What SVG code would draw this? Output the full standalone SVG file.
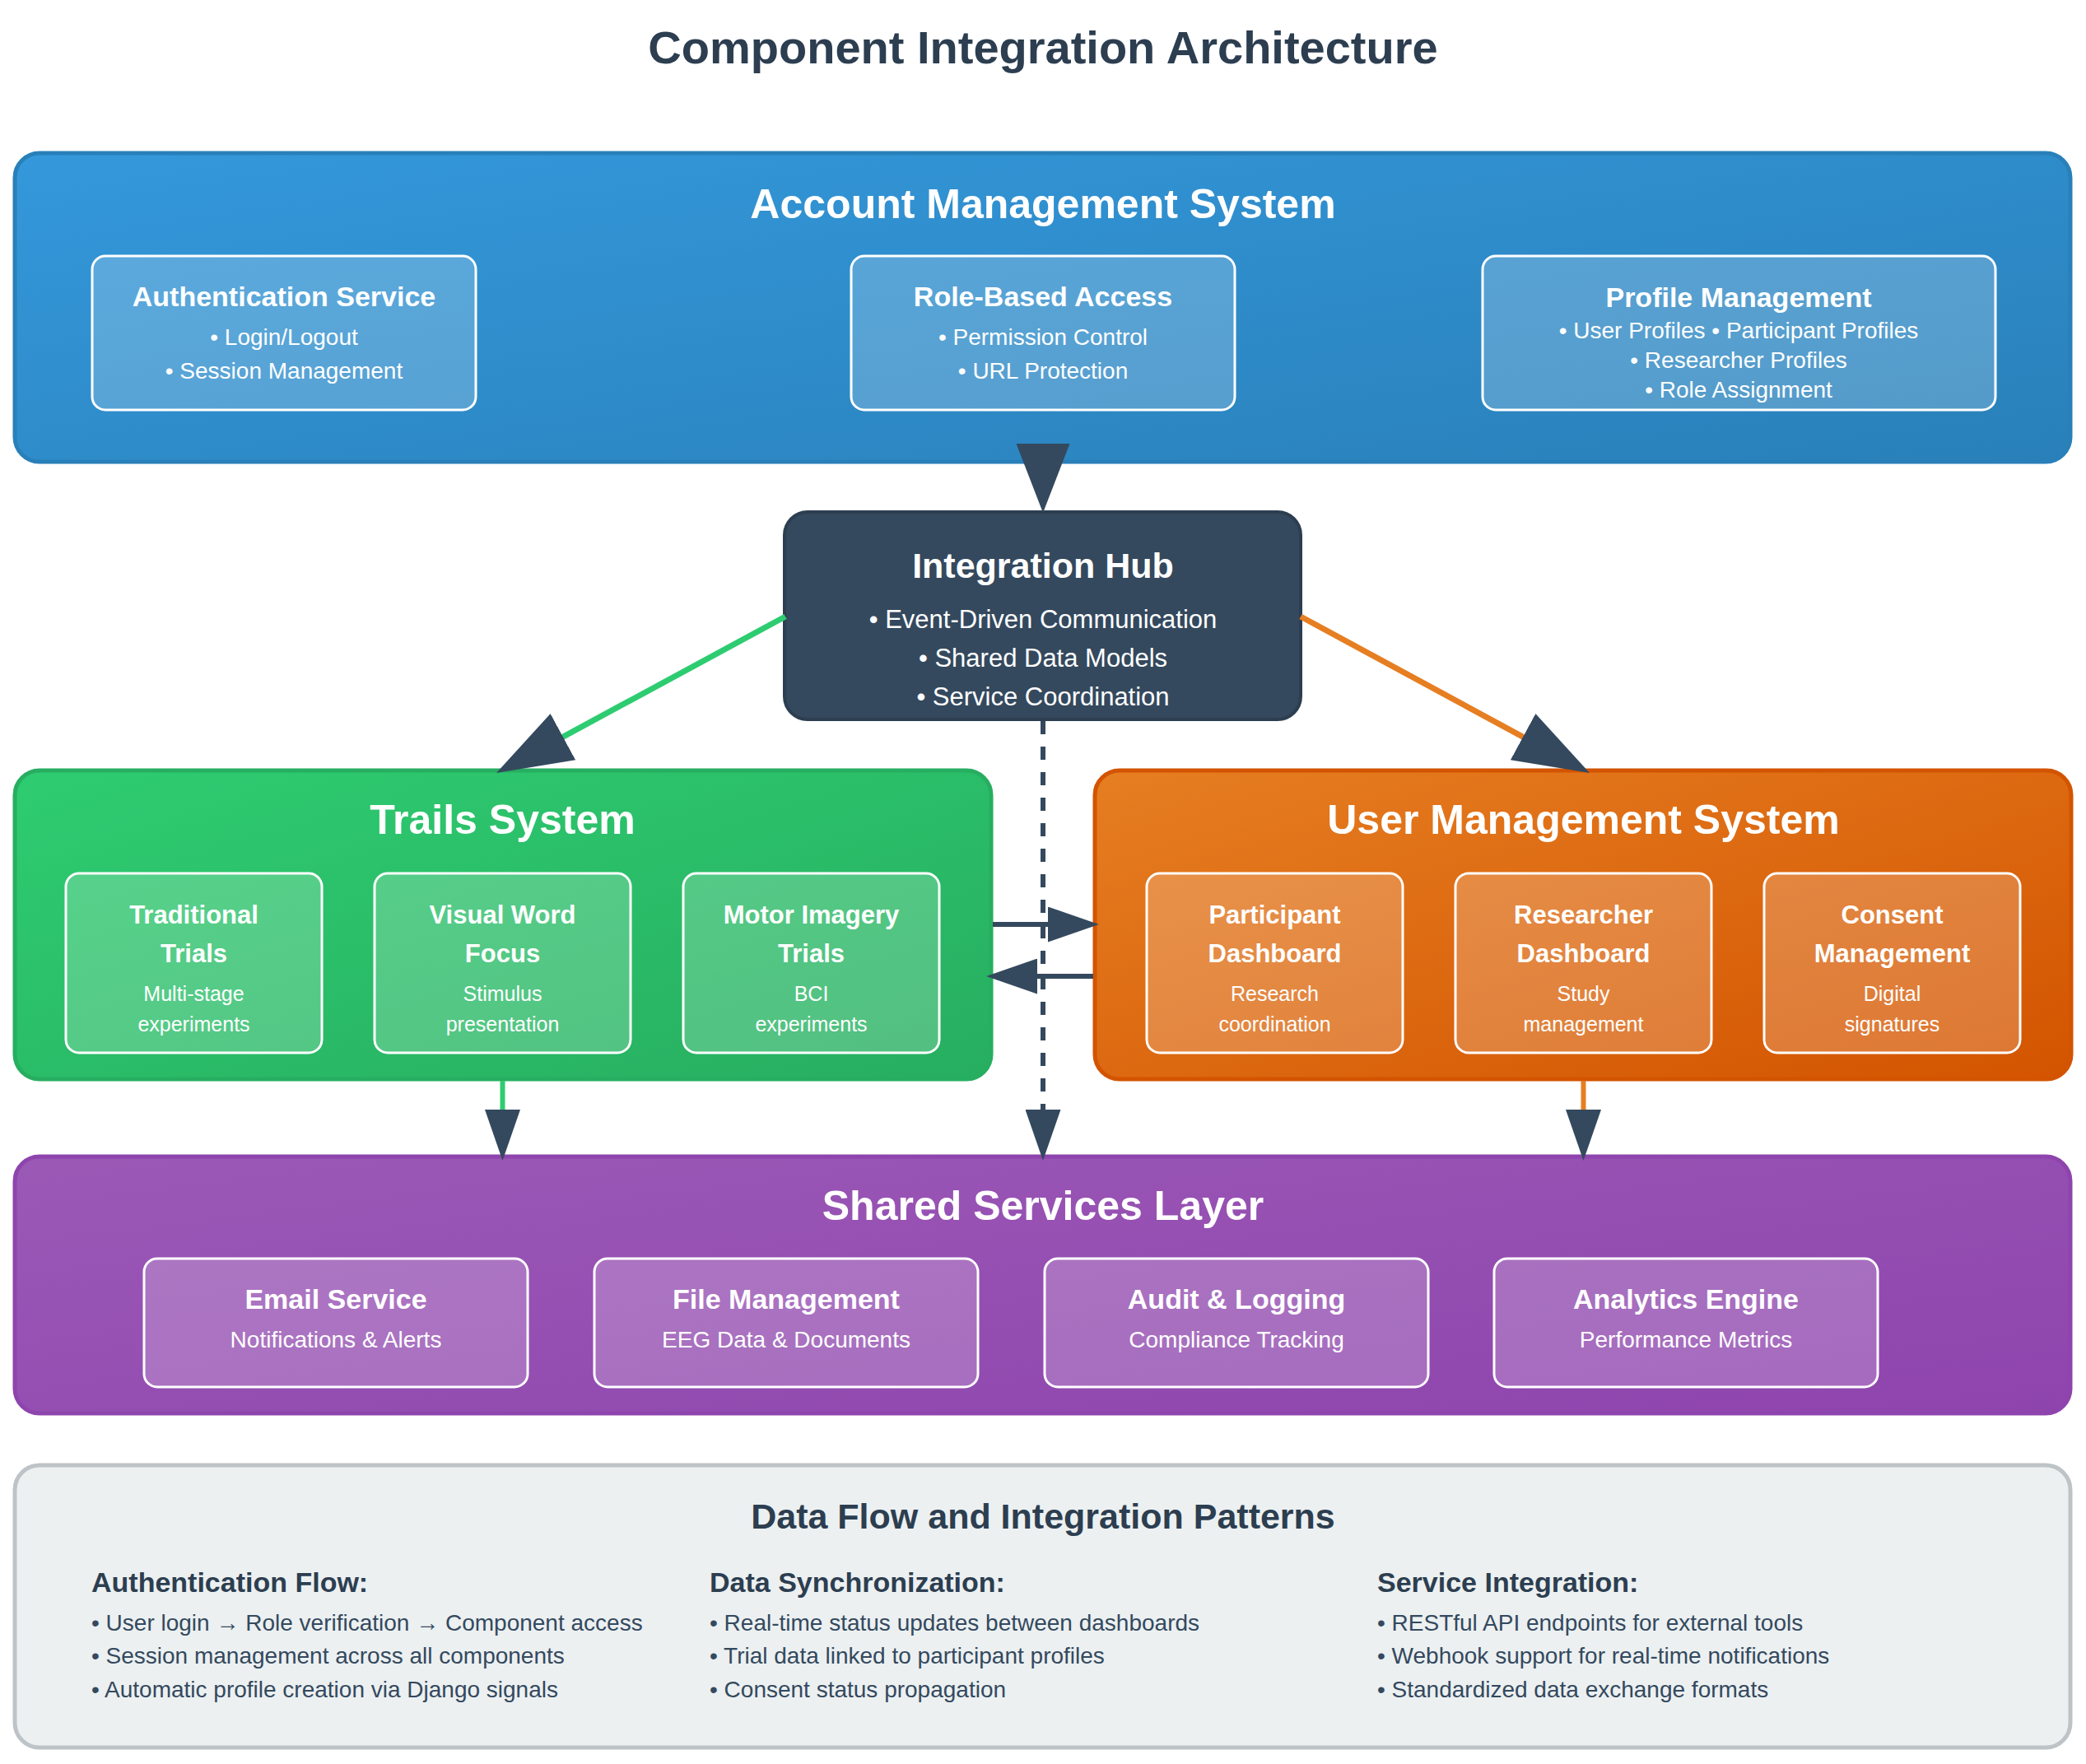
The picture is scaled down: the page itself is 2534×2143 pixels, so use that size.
<svg xmlns="http://www.w3.org/2000/svg" width="2534" height="2143" viewBox="0 0 2534 2143">
<style>
text{font-family:"Liberation Sans",Arial,sans-serif;}
.ttl{font-size:56px;font-weight:bold;fill:#2c3e50;text-anchor:middle;}
.sec{font-size:50px;font-weight:bold;fill:#fff;text-anchor:middle;}
.hubt{font-size:43px;font-weight:bold;fill:#fff;text-anchor:middle;}
.hubi{font-size:31px;fill:#fff;text-anchor:middle;}
.st34{font-size:34px;font-weight:bold;fill:#fff;text-anchor:middle;}
.si28{font-size:28px;fill:#fff;text-anchor:middle;}
.st31{font-size:31px;font-weight:bold;fill:#fff;text-anchor:middle;}
.si25{font-size:25px;fill:#fff;text-anchor:middle;}
.sub{fill:#fff;fill-opacity:0.2;stroke:#fff;stroke-width:3;}
.big{stroke-width:5;}
.bt{font-size:43px;font-weight:bold;fill:#2c3e50;text-anchor:middle;}
.bh{font-size:34px;font-weight:bold;fill:#2c3e50;}
.bi{font-size:28px;fill:#34495e;}
.ln{fill:none;}
</style>
<defs>
<linearGradient id="gBlue" x1="0" y1="0" x2="1" y2="1"><stop offset="0" stop-color="#3498db"/><stop offset="1" stop-color="#2980b9"/></linearGradient>
<linearGradient id="gGreen" x1="0" y1="0" x2="1" y2="1"><stop offset="0" stop-color="#2ecc71"/><stop offset="1" stop-color="#27ae60"/></linearGradient>
<linearGradient id="gOrange" x1="0" y1="0" x2="1" y2="1"><stop offset="0" stop-color="#e67e22"/><stop offset="1" stop-color="#d35400"/></linearGradient>
<linearGradient id="gPurple" x1="0" y1="0" x2="1" y2="1"><stop offset="0" stop-color="#9b59b6"/><stop offset="1" stop-color="#8e44ad"/></linearGradient>
<marker id="arrowSm" markerUnits="userSpaceOnUse" viewBox="0 0 62 43" markerWidth="62" markerHeight="43" refX="48" refY="21.5" orient="auto"><path d="M0,0 L62,21.5 L0,43 Z" fill="#34495e"/></marker>
<marker id="arrowBig" markerUnits="userSpaceOnUse" viewBox="0 0 92 64" markerWidth="92" markerHeight="64" refX="78" refY="32" orient="auto"><path d="M0,0 L92,32 L0,64 Z" fill="#34495e"/></marker>
<marker id="arrowDown" markerUnits="userSpaceOnUse" viewBox="0 0 84 65" markerWidth="84" markerHeight="65" refX="70" refY="32.5" orient="auto"><path d="M0,0 L84,32.5 L0,65 Z" fill="#34495e"/></marker>
</defs>
<rect width="2534" height="2143" fill="#fff"/>
<text class="ttl" x="1267" y="77">Component Integration Architecture</text>

<g id="account-management">
<rect class="big" x="18" y="186" width="2497" height="375" rx="30" fill="url(#gBlue)" stroke="#2980b9"/>
<text class="sec" x="1267" y="265">Account Management System</text>
</g>
<g id="authentication-service">
<rect class="sub" x="112" y="311" width="466" height="187" rx="16"/>
<text class="st34" x="345" y="372">Authentication Service</text>
<text class="si28" x="345" y="419">• Login/Logout</text>
<text class="si28" x="345" y="460">• Session Management</text>
</g>
<g id="role-based-access">
<rect class="sub" x="1034" y="311" width="466" height="187" rx="16"/>
<text class="st34" x="1267" y="372">Role-Based Access</text>
<text class="si28" x="1267" y="419">• Permission Control</text>
<text class="si28" x="1267" y="460">• URL Protection</text>
</g>
<g id="profile-management">
<rect class="sub" x="1801" y="311" width="623" height="187" rx="16"/>
<text class="st34" x="2112" y="373">Profile Management</text>
<text class="si28" x="2112" y="411">• User Profiles • Participant Profiles</text>
<text class="si28" x="2112" y="447">• Researcher Profiles</text>
<text class="si28" x="2112" y="483">• Role Assignment</text>
</g>

<g id="integration-hub">
<rect x="953" y="622" width="627" height="252" rx="28" fill="#34495e" stroke="#2c3e50" stroke-width="4"/>
<text class="hubt" x="1267" y="702">Integration Hub</text>
<text class="hubi" x="1267" y="763">• Event-Driven Communication</text>
<text class="hubi" x="1267" y="810">• Shared Data Models</text>
<text class="hubi" x="1267" y="857">• Service Coordination</text>
</g>

<g id="trails-system">
<rect class="big" x="18" y="936" width="1186" height="375" rx="30" fill="url(#gGreen)" stroke="#27ae60"/>
<text class="sec" x="610.5" y="1013">Trails System</text>
</g>
<g id="traditional-trials">
<rect class="sub" x="80" y="1061" width="311" height="218" rx="16"/>
<text class="st31" x="235.5" y="1122">Traditional</text>
<text class="st31" x="235.5" y="1169">Trials</text>
<text class="si25" x="235.5" y="1216">Multi-stage</text>
<text class="si25" x="235.5" y="1253">experiments</text>
</g>
<g id="visual-word-focus">
<rect class="sub" x="455" y="1061" width="311" height="218" rx="16"/>
<text class="st31" x="610.5" y="1122">Visual Word</text>
<text class="st31" x="610.5" y="1169">Focus</text>
<text class="si25" x="610.5" y="1216">Stimulus</text>
<text class="si25" x="610.5" y="1253">presentation</text>
</g>
<g id="motor-imagery-trials">
<rect class="sub" x="830" y="1061" width="311" height="218" rx="16"/>
<text class="st31" x="985.5" y="1122">Motor Imagery</text>
<text class="st31" x="985.5" y="1169">Trials</text>
<text class="si25" x="985.5" y="1216">BCI</text>
<text class="si25" x="985.5" y="1253">experiments</text>
</g>

<g id="user-management-system">
<rect class="big" x="1330" y="936" width="1186" height="375" rx="30" fill="url(#gOrange)" stroke="#d35400"/>
<text class="sec" x="1923.5" y="1013">User Management System</text>
</g>
<g id="participant-dashboard">
<rect class="sub" x="1393" y="1061" width="311" height="218" rx="16"/>
<text class="st31" x="1548.5" y="1122">Participant</text>
<text class="st31" x="1548.5" y="1169">Dashboard</text>
<text class="si25" x="1548.5" y="1216">Research</text>
<text class="si25" x="1548.5" y="1253">coordination</text>
</g>
<g id="researcher-dashboard">
<rect class="sub" x="1768" y="1061" width="311" height="218" rx="16"/>
<text class="st31" x="1923.5" y="1122">Researcher</text>
<text class="st31" x="1923.5" y="1169">Dashboard</text>
<text class="si25" x="1923.5" y="1216">Study</text>
<text class="si25" x="1923.5" y="1253">management</text>
</g>
<g id="consent-management">
<rect class="sub" x="2143" y="1061" width="311" height="218" rx="16"/>
<text class="st31" x="2298.5" y="1122">Consent</text>
<text class="st31" x="2298.5" y="1169">Management</text>
<text class="si25" x="2298.5" y="1216">Digital</text>
<text class="si25" x="2298.5" y="1253">signatures</text>
</g>

<g id="shared-services-layer">
<rect class="big" x="18" y="1405" width="2497" height="312" rx="30" fill="url(#gPurple)" stroke="#8e44ad"/>
<text class="sec" x="1267" y="1482">Shared Services Layer</text>
</g>
<g id="email-service">
<rect class="sub" x="175" y="1529" width="466" height="156" rx="16"/>
<text class="st34" x="408" y="1590">Email Service</text>
<text class="si28" x="408" y="1637">Notifications &amp; Alerts</text>
</g>
<g id="file-management">
<rect class="sub" x="722" y="1529" width="466" height="156" rx="16"/>
<text class="st34" x="955" y="1590">File Management</text>
<text class="si28" x="955" y="1637">EEG Data &amp; Documents</text>
</g>
<g id="audit-logging">
<rect class="sub" x="1269" y="1529" width="466" height="156" rx="16"/>
<text class="st34" x="1502" y="1590">Audit &amp; Logging</text>
<text class="si28" x="1502" y="1637">Compliance Tracking</text>
</g>
<g id="analytics-engine">
<rect class="sub" x="1815" y="1529" width="466" height="156" rx="16"/>
<text class="st34" x="2048" y="1590">Analytics Engine</text>
<text class="si28" x="2048" y="1637">Performance Metrics</text>
</g>

<g id="data-flow-patterns">
<rect x="18" y="1780" width="2497" height="343" rx="30" fill="#ecf0f1" stroke="#bdc3c7" stroke-width="5"/>
<text class="bt" x="1267" y="1857">Data Flow and Integration Patterns</text>
<text class="bh" x="111" y="1934">Authentication Flow:</text>
<text class="bi" x="111" y="1981">• User login → Role verification → Component access</text>
<text class="bi" x="111" y="2021">• Session management across all components</text>
<text class="bi" x="111" y="2062">• Automatic profile creation via Django signals</text>
<text class="bh" x="862" y="1934">Data Synchronization:</text>
<text class="bi" x="862" y="1981">• Real-time status updates between dashboards</text>
<text class="bi" x="862" y="2021">• Trial data linked to participant profiles</text>
<text class="bi" x="862" y="2062">• Consent status propagation</text>
<text class="bh" x="1673" y="1934">Service Integration:</text>
<text class="bi" x="1673" y="1981">• RESTful API endpoints for external tools</text>
<text class="bi" x="1673" y="2021">• Webhook support for real-time notifications</text>
<text class="bi" x="1673" y="2062">• Standardized data exchange formats</text>
</g>

<g id="connectors" class="ln">
<line x1="1267" y1="548" x2="1267" y2="609" stroke="#34495e" stroke-width="6" marker-end="url(#arrowDown)"/>
<line x1="954" y1="749" x2="615.3" y2="932.3" stroke="#2ecc71" stroke-width="7" marker-end="url(#arrowBig)"/>
<line x1="1580" y1="749" x2="1918.7" y2="932.3" stroke="#e67e22" stroke-width="7" marker-end="url(#arrowBig)"/>
<line x1="1267" y1="876" x2="1267" y2="1396" stroke="#34495e" stroke-width="6" stroke-dasharray="16,15" marker-end="url(#arrowSm)"/>
<line x1="1206" y1="1123" x2="1321" y2="1123" stroke="#34495e" stroke-width="6" marker-end="url(#arrowSm)"/>
<line x1="1328" y1="1186" x2="1212" y2="1186" stroke="#34495e" stroke-width="6" marker-end="url(#arrowSm)"/>
<line x1="610.5" y1="1313" x2="610.5" y2="1396" stroke="#2ecc71" stroke-width="6" marker-end="url(#arrowSm)"/>
<line x1="1923.5" y1="1313" x2="1923.5" y2="1396" stroke="#e67e22" stroke-width="6" marker-end="url(#arrowSm)"/>
</g>
</svg>
